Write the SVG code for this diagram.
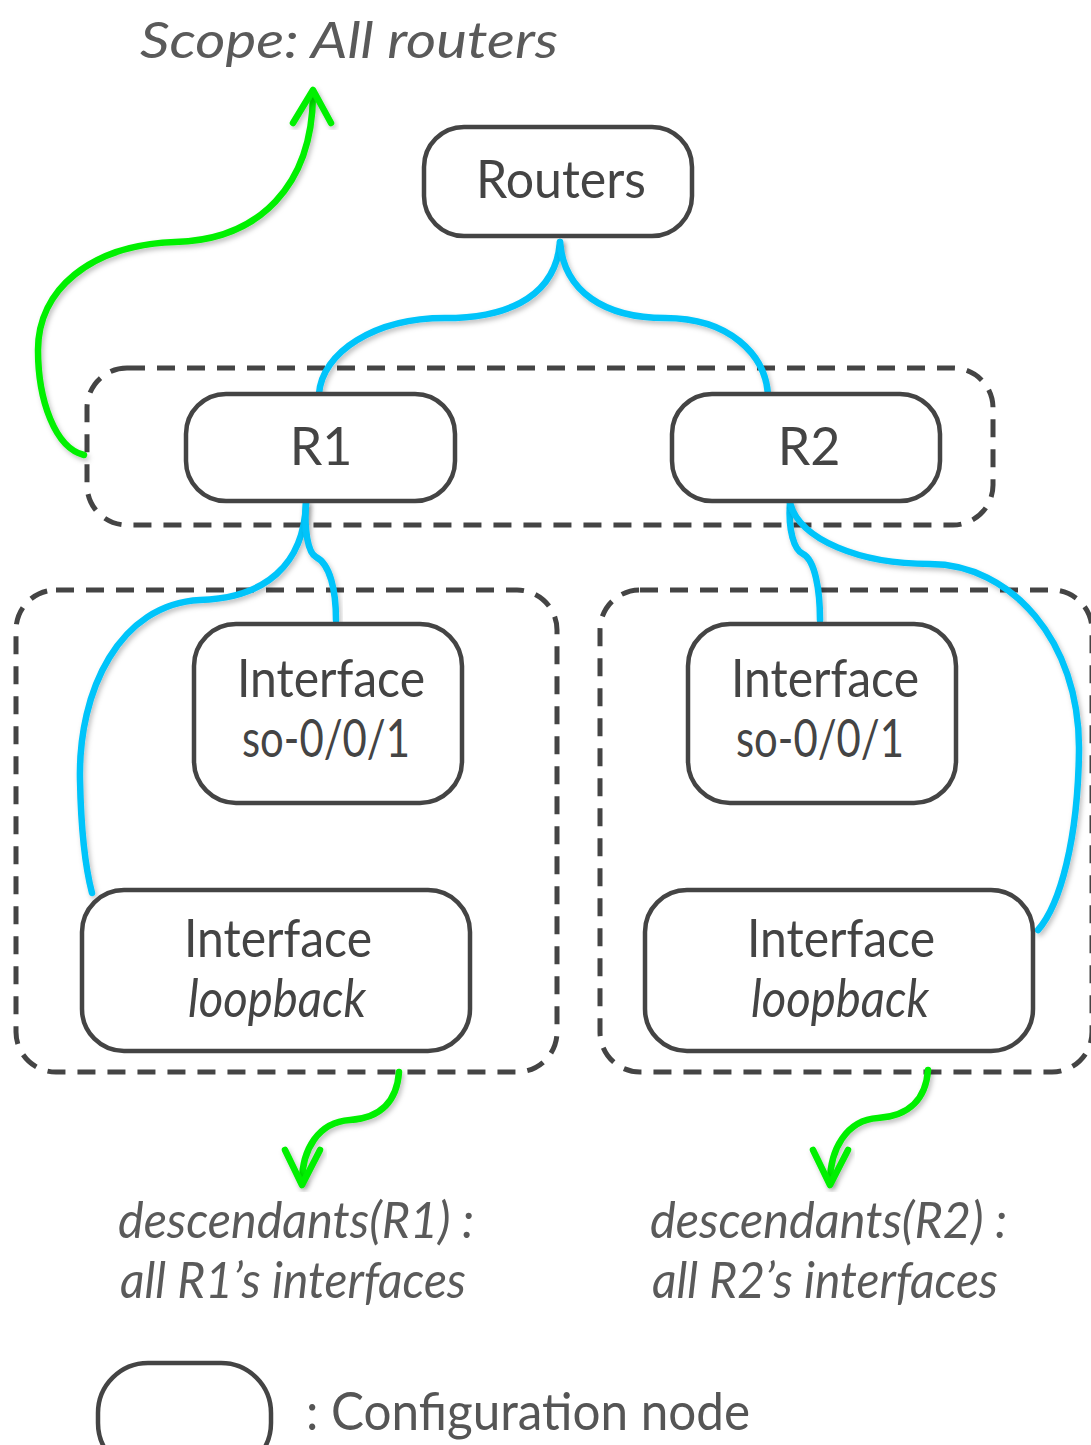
<svg xmlns="http://www.w3.org/2000/svg" width="1091" height="1445" viewBox="0 0 1091 1445">
  <style>
    .node { fill: #ffffff; stroke: #444444; stroke-width: 4.5; }
    .group { fill: none; stroke: #444444; stroke-width: 5; stroke-dasharray: 18 12; }
    .label { font-family: Lato, "Open Sans", sans-serif; font-size: 52px; fill: #444444; text-anchor: middle; }
    .note { font-family: Lato, "Open Sans", sans-serif; font-style: italic; font-size: 50px; fill: #5a5a5a; }
    .tree { fill: none; stroke: #00c4fa; stroke-width: 6.5; stroke-linecap: round; filter: url(#shadow); }
    .scope { fill: none; stroke: #00f000; stroke-width: 6.5; stroke-linecap: round; stroke-linejoin: round; filter: url(#shadow); }
  </style>
  <defs>
    <filter id="shadow" x="-20%" y="-20%" width="140%" height="140%">
      <feDropShadow dx="2" dy="3" stdDeviation="2.5" flood-color="#000000" flood-opacity="0.25"/>
    </filter>
  </defs>
  <rect width="1091" height="1445" fill="#ffffff"/>

  <!-- dashed groupings -->
  <g id="groups">
    <rect class="group" x="87" y="368" width="906" height="157" rx="40"/>
    <rect class="group" x="16" y="590" width="541" height="482" rx="40"/>
    <rect class="group" x="600" y="590" width="492" height="482" rx="40"/>
  </g>

  <!-- parent/child links and scope arrows -->
  <g id="connectors">
    <path class="tree" d="M560,242 C556,292 515,318 445,318 C375,318 322,352 319,394"/>
    <path class="tree" d="M560,242 C564,292 605,318 665,318 C730,318 765,355 768,394"/>
    <path class="tree" d="M306,503 C304,565 265,598 200,600 C120,604 78,690 80,780 C81,830 86,870 92,893"/>
    <path class="tree" d="M306,503 C304,530 308,553 316,557 C330,564 336,590 336,620"/>
    <path class="tree" d="M790,503 C788,530 794,550 803,554 C815,560 820,590 820,620"/>
    <path class="tree" d="M790,503 C800,540 860,564 930,564 C1010,564 1080,640 1079,750 C1078,840 1060,905 1038,930"/>

    <path class="scope" d="M84,455 C55,448 38,400 38,350 C38,290 90,245 175,242 C260,240 312,185 313,95"/>
    <path class="scope" d="M293,123 L313,90 L331,123"/>
    <path class="scope" d="M399,1072 C397,1100 382,1118 350,1120 C318,1122 302,1150 302,1182"/>
    <path class="scope" d="M285,1150 L302,1185 L320,1150"/>
    <path class="scope" d="M928,1070 C926,1098 910,1116 878,1118 C846,1120 830,1150 830,1182"/>
    <path class="scope" d="M813,1150 L830,1185 L848,1150"/>
  </g>

  <g id="node-routers">
    <rect class="node" x="424" y="127" width="268" height="109" rx="40"/>
    <text class="label" x="561" y="198" textLength="170" lengthAdjust="spacingAndGlyphs">Routers</text>
  </g>
  <g id="node-r1">
    <rect class="node" x="186" y="394" width="269" height="107" rx="40"/>
    <text class="label" x="321" y="465">R1</text>
  </g>
  <g id="node-r2">
    <rect class="node" x="672" y="394" width="268" height="107" rx="40"/>
    <text class="label" x="809" y="465">R2</text>
  </g>
  <g id="node-r1-so">
    <rect class="node" x="194" y="624" width="268" height="179" rx="42"/>
    <text class="label" x="331" y="697" textLength="188" lengthAdjust="spacingAndGlyphs">Interface</text>
    <text class="label" x="326" y="757" textLength="168" lengthAdjust="spacingAndGlyphs">so-0/0/1</text>
  </g>
  <g id="node-r2-so">
    <rect class="node" x="688" y="624" width="268" height="179" rx="42"/>
    <text class="label" x="825" y="697" textLength="188" lengthAdjust="spacingAndGlyphs">Interface</text>
    <text class="label" x="820" y="757" textLength="168" lengthAdjust="spacingAndGlyphs">so-0/0/1</text>
  </g>
  <g id="node-r1-lo">
    <rect class="node" x="82" y="890" width="388" height="161" rx="42"/>
    <text class="label" x="278" y="957" textLength="188" lengthAdjust="spacingAndGlyphs">Interface</text>
    <text class="label" x="277" y="1017" font-style="italic" textLength="178" lengthAdjust="spacingAndGlyphs">loopback</text>
  </g>
  <g id="node-r2-lo">
    <rect class="node" x="645" y="890" width="388" height="161" rx="42"/>
    <text class="label" x="841" y="957" textLength="188" lengthAdjust="spacingAndGlyphs">Interface</text>
    <text class="label" x="840" y="1017" font-style="italic" textLength="178" lengthAdjust="spacingAndGlyphs">loopback</text>
  </g>

  <!-- annotations -->
  <g id="labels">
    <text class="note" x="140" y="58" font-size="62" fill="#555555" textLength="418" lengthAdjust="spacingAndGlyphs">Scope:  All routers</text>
    <text class="note" x="118" y="1238" textLength="356" lengthAdjust="spacingAndGlyphs">descendants(R1) :</text>
    <text class="note" x="120" y="1298" textLength="346" lengthAdjust="spacingAndGlyphs">all R1’s interfaces</text>
    <text class="note" x="650" y="1238" textLength="357" lengthAdjust="spacingAndGlyphs">descendants(R2) :</text>
    <text class="note" x="652" y="1298" textLength="346" lengthAdjust="spacingAndGlyphs">all R2’s interfaces</text>
  </g>

  <g id="legend">
    <rect class="node" x="98" y="1363" width="173" height="110" rx="50"/>
    <text x="306" y="1430" font-family="Lato, 'Open Sans', sans-serif" font-size="52" fill="#555555" textLength="444" lengthAdjust="spacingAndGlyphs">: Configuration node</text>
  </g>
</svg>
